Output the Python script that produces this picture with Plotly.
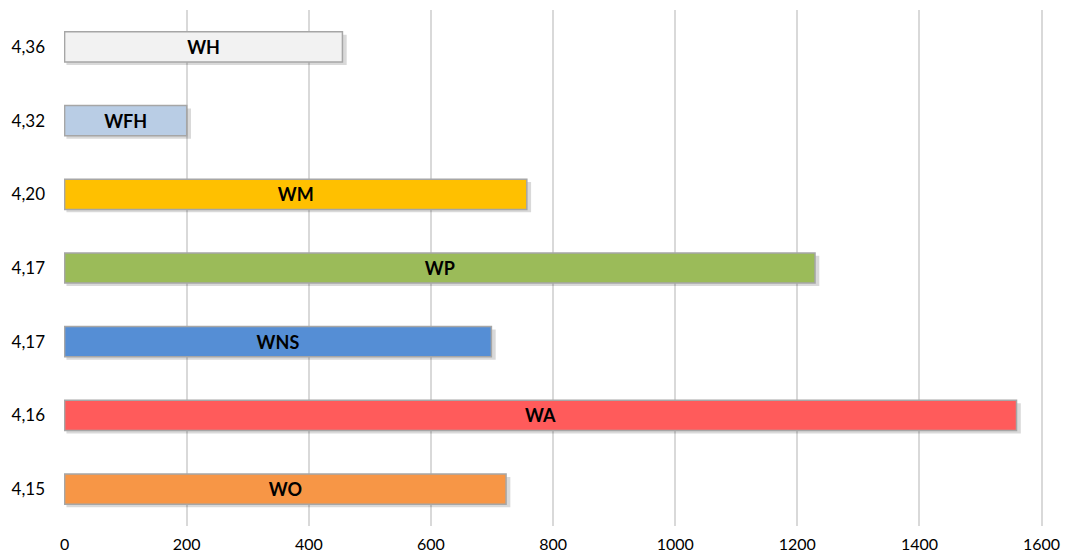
import plotly.graph_objects as go

categories = ["4,36", "4,32", "4,20", "4,17", "4,17", "4,16", "4,15"]
names = ["WH", "WFH", "WM", "WP", "WNS", "WA", "WO"]
values = [455, 200, 757, 1229, 699, 1559, 723]
colors = ["#f2f2f2", "#b9cde5", "#ffc000", "#9bbb59", "#558ed5", "#ff5b5b", "#f79646"]
x_ticks = [0, 200, 400, 600, 800, 1000, 1200, 1400, 1600]

n = len(categories)
ypos = [n - 1 - i for i in range(n)]

fig = go.Figure()
# soft shadow
fig.add_trace(go.Bar(
    y=ypos, x=[v + 4 for v in values], base=[3] * n, orientation="h",
    width=0.41, offset=-0.205 - 0.04,
    marker=dict(color="rgba(0,0,0,0.15)", line=dict(width=0)),
    hoverinfo="skip", showlegend=False,
))
fig.add_trace(go.Bar(
    y=ypos, x=values, orientation="h", width=0.41,
    marker=dict(color=colors, line=dict(color="#a6a6a6", width=1.5)),
    text=names, textposition="inside", insidetextanchor="middle",
    textfont=dict(family="Lato, Open Sans, sans-serif", size=18, color="black", weight="bold"),
    textangle=0, showlegend=False,
))
fig.update_layout(
    barmode="overlay",
    width=1053, height=549,
    margin=dict(l=56, r=17, t=2, b=31),
    plot_bgcolor="white", paper_bgcolor="white",
    font=dict(family="Lato, Open Sans, sans-serif", size=17, color="black"),
    xaxis=dict(range=[-1, 1604], tickvals=x_ticks, ticktext=[str(t) for t in x_ticks],
               showgrid=True, gridcolor="#d9d9d9", gridwidth=2, zeroline=False,
               showline=False, ticks="", ticklabelstandoff=7, automargin=False,
               ticklabeloverflow="allow", tickfont=dict(size=16)),
    yaxis=dict(range=[-0.5, n - 0.5], tickvals=ypos, ticktext=categories,
               showgrid=False, zeroline=False, showline=False, ticks="",
               ticklabelstandoff=18, automargin=False, tickfont=dict(size=17)),
)
fig.write_html("out.html")
